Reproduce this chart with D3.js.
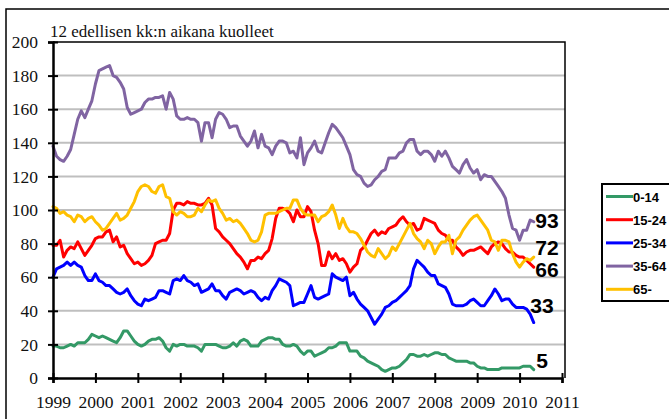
<!DOCTYPE html>
<html><head><meta charset="utf-8">
<script src="https://cdn.jsdelivr.net/npm/d3@7"></script>
<style>body{margin:0;background:#fff} svg{display:block}</style>
</head><body>
<svg id="c" width="669" height="419"></svg>
<script>
// ---------- DATA (monthly, Jan 1999 .. May 2010) ----------
const startYear = 1999;
const title = "12 edellisen kk:n aikana kuolleet";
const seriesNames = ["0-14", "15-24", "25-34", "35-64", "65-"];
const v0_14 = [
19,19,18,18,19,20,19,21,21,21, 23,26,25,24,25,24,23,22,21,24,
28,28,25,22,20,19,20,22,23,23, 24,22,18,16,20,19,20,20,19,19,
19,18,16,20,20,20,20,19,18,18, 19,21,19,22,23,22,19,19,19,22,
23,24,24,23,23,20,19,19,20,19, 16,14,16,16,13,14,15,16,18,18,
19,21,21,21,16,16,16,13,12,10, 9,8,7,5,4,5,6,6,7,9,
11,14,14,13,13,14,13,14,15,15, 14,14,12,11,10,10,10,10,9,9,
7,6,6,5,5,5,5,6,6,6, 6,6,6,7,7,7,5];
const v15_24 = [
79,79,82,72,76,78,77,81,77,73, 76,79,83,84,84,87,88,81,84,78,
79,74,71,68,69,67,68,70,73,80, 81,82,82,86,100,104,104,103,105,104,
104,103,103,104,107,103,89,87,84,82, 80,77,74,72,69,65,70,70,72,71,
74,76,83,95,101,101,100,98,93,100, 96,96,102,99,88,80,67,67,75,71,
74,70,71,68,63,66,68,76,78,82, 86,88,85,87,86,89,90,91,94,96,
93,91,92,88,89,95,94,93,92,88, 86,85,82,82,78,76,73,75,76,76,
77,78,76,74,78,80,81,80,77,75, 75,73,72,72,70,68,66];
const v25_34 = [
60,65,66,67,69,67,69,67,66,61, 58,58,62,58,57,55,55,53,51,50,
51,53,49,46,44,43,47,46,47,48, 52,52,51,50,58,59,58,61,58,57,
55,56,51,52,53,56,52,52,49,47, 51,52,53,52,50,51,52,51,48,46,
48,47,52,55,59,58,57,55,43,44, 45,45,50,55,48,47,48,49,50,62,
60,59,58,60,49,51,47,44,42,40, 36,32,35,38,42,43,45,46,48,50,
52,55,65,70,68,66,63,61,61,56, 55,54,50,44,43,43,43,44,46,47,
45,43,43,46,49,53,50,46,47,47, 44,42,42,42,41,38,33];
const v35_64 = [
138,132,130,129,132,136,145,154,159,155, 160,165,175,183,184,185,186,180,179,176,
172,161,157,158,159,160,164,166,166,167, 167,168,160,170,166,156,154,154,155,154,
154,152,141,152,152,143,154,158,157,154, 149,150,150,144,141,138,141,147,137,145,
138,137,133,138,141,141,140,134,135,131, 143,127,134,137,141,135,134,140,146,151,
149,146,143,138,133,124,121,120,116,114, 115,118,120,123,124,131,131,131,134,135,
140,142,142,135,133,135,135,133,129,135, 132,135,131,126,124,122,127,130,125,122,
124,118,121,120,120,117,114,111,107,97, 89,88,82,88,88,94,93];
const v65 = [
102,101,98,99,97,96,93,97,96,93, 95,96,93,91,88,89,92,95,98,94,
95,97,101,105,111,114,115,114,111,110, 114,115,108,107,99,97,99,98,96,96,
97,101,99,103,106,105,106,101,98,94, 95,93,94,92,89,86,82,81,82,87,
97,98,98,98,99,100,101,101,106,106, 101,98,97,97,97,93,96,97,99,103,
97,89,95,90,87,87,86,83,79,75, 73,72,77,74,71,73,78,76,80,84,
88,92,86,83,81,77,82,80,74,78, 81,81,85,74,82,84,88,91,94,96,
97,94,91,88,82,81,76,82,82,81, 74,69,66,69,71,70,72];
const xTickYears = [1999,2000,2001,2002,2003,2004,2005,2006,2007,2008,2009,2010,2011];
const yTickValues = [0,20,40,60,80,100,120,140,160,180,200];

// ---------- STYLE / LAYOUT ----------
const colors = ["#339966", "#FF0000", "#0000FF", "#8064A2", "#FFC000"];
const seriesValues = [v0_14, v15_24, v25_34, v35_64, v65];
// label nudges (dx, dy) relative to the last point
const labelNudge = [[2.5,-1.5],[1.5,10],[-3.5,-10],[1.5,6],[1.5,-2]];

const svg = d3.select("#c");
const L = 53, R = 565, T = 42, B = 378;
const x = d3.scaleLinear().domain([1999, 2011]).range([L, 562]);
const y = d3.scaleLinear().domain([0, 200]).range([B, T]);

// outer frame
svg.append("path").attr("d", "M6,419V9H669").attr("fill","none")
   .attr("stroke","#000").attr("stroke-width",1.5);

// gridlines
svg.append("g").selectAll("line").data(yTickValues.filter(v => v > 0 && v < 200))
  .join("line")
  .attr("x1", L).attr("x2", R)
  .attr("y1", d => y(d)).attr("y2", d => y(d))
  .attr("stroke", "#BFBFBF").attr("stroke-width", 2);

// series
const line = d3.line().x((d, i) => x(startYear + i / 12)).y(d => y(d));
seriesValues.forEach((vals, k) => {
  svg.append("path").datum(vals).attr("d", line)
    .attr("fill", "none").attr("stroke", colors[k])
    .attr("stroke-width", 3).attr("stroke-linejoin", "round").attr("stroke-linecap","round");
});

// plot box top & right
svg.append("path").attr("d", `M${L},${T}H${R}V${B}`).attr("fill","none")
   .attr("stroke","#000").attr("stroke-width",1.5);

// y axis
const yAxis = svg.append("g").attr("transform", `translate(${L},0)`)
  .call(d3.axisLeft(y).tickValues(yTickValues).tickSize(5).tickPadding(10));
yAxis.select(".domain").attr("stroke-width", 2.5);
yAxis.selectAll(".tick line").attr("x1", 5).attr("stroke-width", 2);
yAxis.selectAll("text").attr("font-family", "'Liberation Serif', 'Times New Roman', serif")
  .attr("font-size", 17.5).attr("fill", "#111");

// x axis
const xAxis = svg.append("g").attr("transform", `translate(0,${B})`)
  .call(d3.axisBottom(x).tickValues(xTickYears).tickFormat(d3.format("d")).tickSize(5));
xAxis.select(".domain").attr("stroke-width", 2.5);
xAxis.selectAll(".tick line").attr("y1", -5).attr("stroke-width", 2);
xAxis.selectAll("text").attr("y", 30).attr("dy", 0)
  .attr("font-family", "'Liberation Serif', 'Times New Roman', serif")
  .attr("font-size", 17.5).attr("fill", "#111");

// title
svg.append("text").attr("x", 50).attr("y", 37).text(title)
  .attr("font-family", "'Liberation Serif', 'Times New Roman', serif")
  .attr("font-size", 17).attr("fill", "#111");

// end labels
seriesValues.forEach((vals, k) => {
  const n = vals.length - 1;
  svg.append("text")
    .attr("x", x(startYear + n / 12) + labelNudge[k][0])
    .attr("y", y(vals[n]) + labelNudge[k][1])
    .text(vals[n])
    .attr("font-family", "'Liberation Sans', Arial, sans-serif")
    .attr("font-weight", "bold").attr("font-size", 21).attr("fill", "#000");
});

// legend
const lg = svg.append("g");
lg.append("rect").attr("x", 602).attr("y", 184).attr("width", 90).attr("height", 117)
  .attr("fill", "#fff").attr("stroke", "#000").attr("stroke-width", 2);
seriesNames.forEach((name, k) => {
  const ly = 196.5 + k * 23.2;
  lg.append("line").attr("x1", 606).attr("x2", 633).attr("y1", ly).attr("y2", ly)
    .attr("stroke", colors[k]).attr("stroke-width", 3);
  lg.append("text").attr("x", 633).attr("y", ly + 5).text(name)
    .attr("font-family", "'Liberation Sans', Arial, sans-serif")
    .attr("font-weight", "bold").attr("font-size", 13).attr("fill", "#000");
});
</script>
</body></html>
